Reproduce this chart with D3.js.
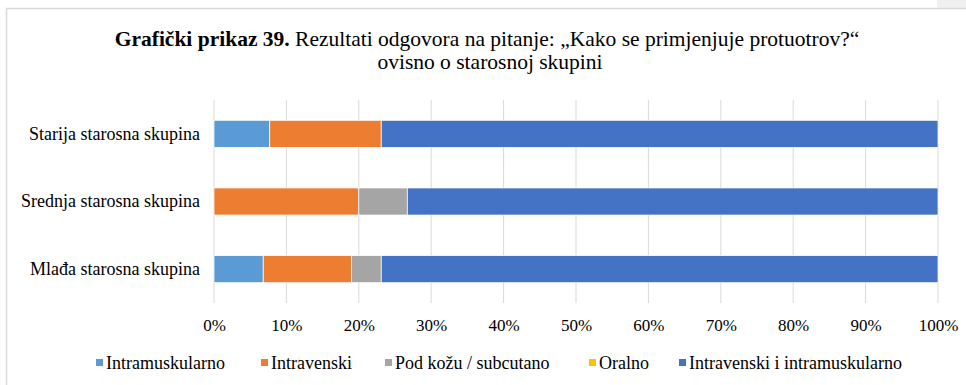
<!DOCTYPE html>
<html>
<head>
<meta charset="utf-8">
<script src="https://cdn.jsdelivr.net/npm/d3@7"></script>
<style>
  html, body { margin: 0; padding: 0; background: #fff; }
  svg { display: block; }
  text { font-family: "Liberation Serif", "Times New Roman", serif; fill: #000; }
</style>
</head>
<body>
<svg id="chart" width="966" height="385"></svg>
<script>
// Age groups, top to bottom
const categories = ["Starija starosna skupina", "Srednja starosna skupina", "Mlađa starosna skupina"];
// Answer options (stack order, left to right)
const seriesNames = ["Intramuskularno", "Intravenski", "Pod kožu / subcutano", "Oralno", "Intravenski i intramuskularno"];
const seriesColors = ["#5B9BD5", "#ED7D31", "#A5A5A5", "#FFC000", "#4472C4"];
// Share of answers (%) per age group, one array per option
const intramuskularno = [7.7, 0, 6.8];
const intravenski = [15.4, 20.0, 12.2];
const podKozu = [0, 6.7, 4.1];
const oralno = [0, 0, 0];
const ivIm = [76.9, 73.3, 76.9];
const tickValues = [0, 10, 20, 30, 40, 50, 60, 70, 80, 90, 100];

const series = [intramuskularno, intravenski, podKozu, oralno, ivIm];
const rows = categories.map((c, i) => {
  const r = { cat: c };
  seriesNames.forEach((s, j) => { r[s] = series[j][i]; });
  return r;
});

const svg = d3.select("#chart");

// outer frame
svg.append("rect").attr("x", 937).attr("y", 0).attr("width", 29).attr("height", 8).attr("fill", "#f0f0f0");
svg.append("path").attr("d", "M6.5,385 V8.5 H966").attr("fill", "none").attr("stroke", "#d9d9d9").attr("stroke-width", 1.5);

// title
const title = svg.append("text").attr("text-anchor", "middle").attr("font-size", 21.5);
const l1 = title.append("tspan").attr("x", 487).attr("y", 46);
l1.append("tspan").attr("font-weight", "bold").text("Grafički prikaz 39.");
l1.append("tspan").text(" Rezultati odgovora na pitanje: „Kako se primjenjuje protuotrov?“");
title.append("tspan").attr("x", 490).attr("y", 69).text("ovisno o starosnoj skupini");

const x = d3.scaleLinear().domain([0, 100]).range([214, 938]);
const y = d3.scaleBand().domain(categories).range([100, 303]).paddingInner(0.6).paddingOuter(0.3);

// gridlines
svg.append("g").selectAll("line").data(tickValues).join("line")
  .attr("x1", d => x(d)).attr("x2", d => x(d))
  .attr("y1", 100).attr("y2", 303)
  .attr("stroke", "#d9d9d9").attr("stroke-width", 1);

// stacked bars
const stack = d3.stack().keys(seriesNames)(rows);
svg.append("g").selectAll("g").data(stack).join("g")
  .attr("fill", (d, i) => seriesColors[i])
  .selectAll("rect").data(d => d.filter(p => p[1] - p[0] > 0)).join("rect")
  .attr("x", d => x(d[0]))
  .attr("width", d => x(d[1]) - x(d[0]))
  .attr("y", d => y(d.data.cat))
  .attr("height", y.bandwidth())
  .attr("stroke", "#fff").attr("stroke-width", 0.75);

// x axis labels
const xAxis = d3.axisBottom(x).tickValues(tickValues).tickFormat(d => d + "%").tickSize(0).tickPadding(0);
const gx = svg.append("g").attr("transform", "translate(0,319)").call(xAxis);
gx.select(".domain").remove();
gx.selectAll("text").attr("font-size", 17).attr("font-family", "Liberation Serif, serif").attr("fill", "#000");

// category labels
const yAxis = d3.axisLeft(y).tickSize(0).tickPadding(0);
const gy = svg.append("g").attr("transform", "translate(200,0)").call(yAxis);
gy.select(".domain").remove();
gy.selectAll("text").attr("font-size", 18).attr("font-family", "Liberation Serif, serif").attr("fill", "#000");

// legend
const legendX = [96, 261, 385, 589, 679];
const lg = svg.append("g").selectAll("g").data(seriesNames).join("g")
  .attr("transform", (d, i) => `translate(${legendX[i]},363)`);
lg.append("rect").attr("x", 0).attr("y", -4).attr("width", 7).attr("height", 7)
  .attr("fill", (d, i) => seriesColors[i]);
lg.append("text").attr("x", 10).attr("y", 6).attr("font-size", 18).text(d => d);
</script>
</body>
</html>
